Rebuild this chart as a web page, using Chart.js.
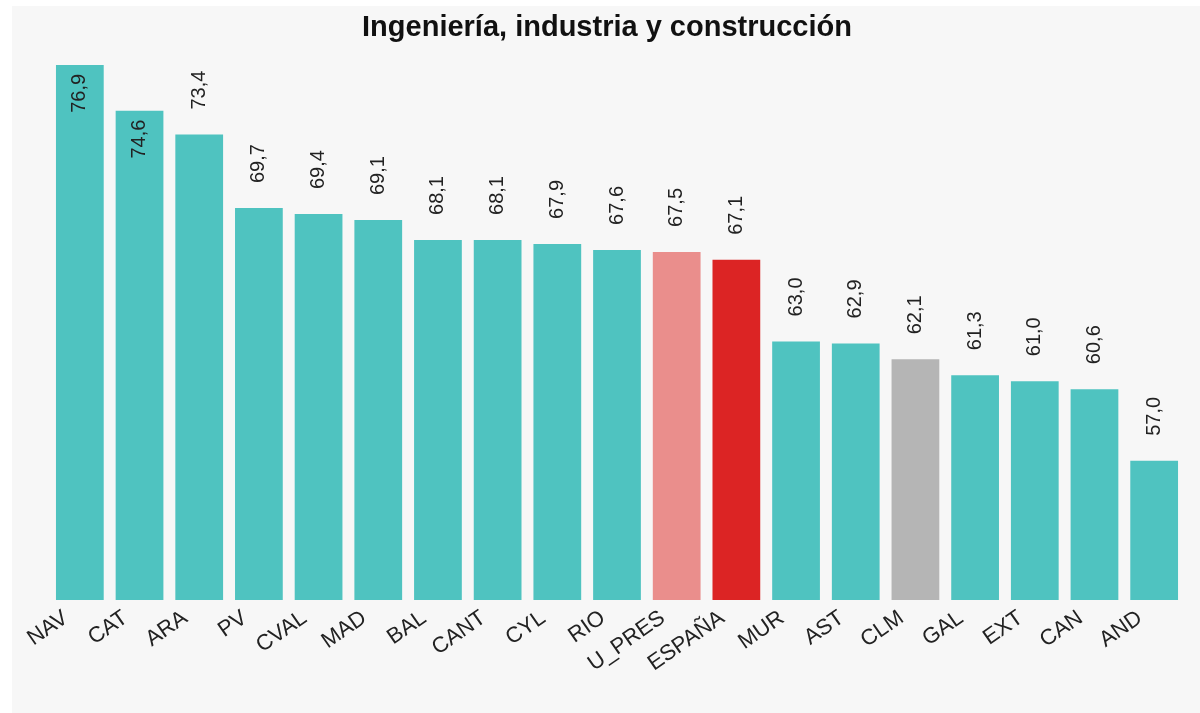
<!DOCTYPE html>
<html>
<head>
<meta charset="utf-8">
<script src="https://cdn.jsdelivr.net/npm/chart.js@4/dist/chart.umd.min.js"></script>
<style>
  body { margin: 0; background: #fff; }
  #wrap { position: absolute; left: 12px; top: 6px; width: 1188px; height: 707px; background: #f7f7f7; }
</style>
</head>
<body>
<div id="wrap"><canvas id="chart"></canvas></div>
<script>
const categories = ['NAV', 'CAT', 'ARA', 'PV', 'CVAL', 'MAD', 'BAL', 'CANT', 'CYL', 'RIO',
  'U_PRES', 'ESPAÑA', 'MUR', 'AST', 'CLM', 'GAL', 'EXT', 'CAN', 'AND'];
const values = [76.9, 74.6, 73.4, 69.7, 69.4, 69.1, 68.1, 68.1, 67.9, 67.6,
  67.5, 67.1, 63.0, 62.9, 62.1, 61.3, 61.0, 60.6, 57.0];

// colours for the highlighted regions, the rest get the default teal
const highlight = { 'U_PRES': '#ea8e8c', 'ESPAÑA': '#dc2424', 'CLM': '#b5b5b5' };
const baseColor = '#4fc3c0';

const fontFamily = '"Liberation Sans", Arial, sans-serif';

// value labels, rotated, above the bar or inside if there is no room
const valueLabels = {
  id: 'valueLabels',
  afterDatasetsDraw(chart) {
    const ctx = chart.ctx;
    const meta = chart.getDatasetMeta(0);
    ctx.save();
    ctx.font = '20px ' + fontFamily;
    ctx.fillStyle = '#222';
    ctx.textBaseline = 'middle';
    ctx.textAlign = 'left';
    meta.data.forEach((bar, i) => {
      const text = values[i].toFixed(1).replace('.', ',');
      const w = ctx.measureText(text).width;
      let y = bar.y - 25;
      if (y - w < chart.chartArea.top + 20) {
        y = bar.y + 9 + w;
      }
      ctx.save();
      ctx.translate(bar.x, y);
      ctx.rotate(-Math.PI / 2);
      ctx.fillText(text, 0, 0);
      ctx.restore();
    });
    ctx.restore();
  }
};

new Chart(document.getElementById('chart'), {
  type: 'bar',
  data: {
    labels: categories,
    datasets: [{
      data: values,
      backgroundColor: categories.map(c => highlight[c] || baseColor),
      borderWidth: 0,
      barPercentage: 0.8,
      categoryPercentage: 1
    }]
  },
  options: {
    responsive: true,
    maintainAspectRatio: false,
    animation: false,
    layout: { padding: { left: 18, right: 16, top: 0, bottom: 0 } },
    plugins: {
      legend: { display: false },
      tooltip: { enabled: false },
      title: {
        display: true,
        text: 'Ingeniería, industria y construcción',
        color: '#111',
        font: { family: fontFamily, size: 29, weight: 'bold', lineHeight: 1 },
        padding: { top: 7, bottom: 1 }
      }
    },
    scales: {
      x: {
        grid: { display: false },
        border: { display: false },
        ticks: {
          color: '#222',
          font: { family: fontFamily, size: 22 },
          maxRotation: 35,
          minRotation: 35,
          autoSkip: false,
          labelOffset: -14,
          padding: -3
        },
        afterFit(scale) { scale.height = 113; }
      },
      y: {
        min: 50,
        max: 78,
        grid: { display: false },
        border: { display: false },
        ticks: { display: false },
        afterFit(scale) { scale.width = 20; }
      }
    }
  },
  plugins: [valueLabels]
});
</script>
</body>
</html>
